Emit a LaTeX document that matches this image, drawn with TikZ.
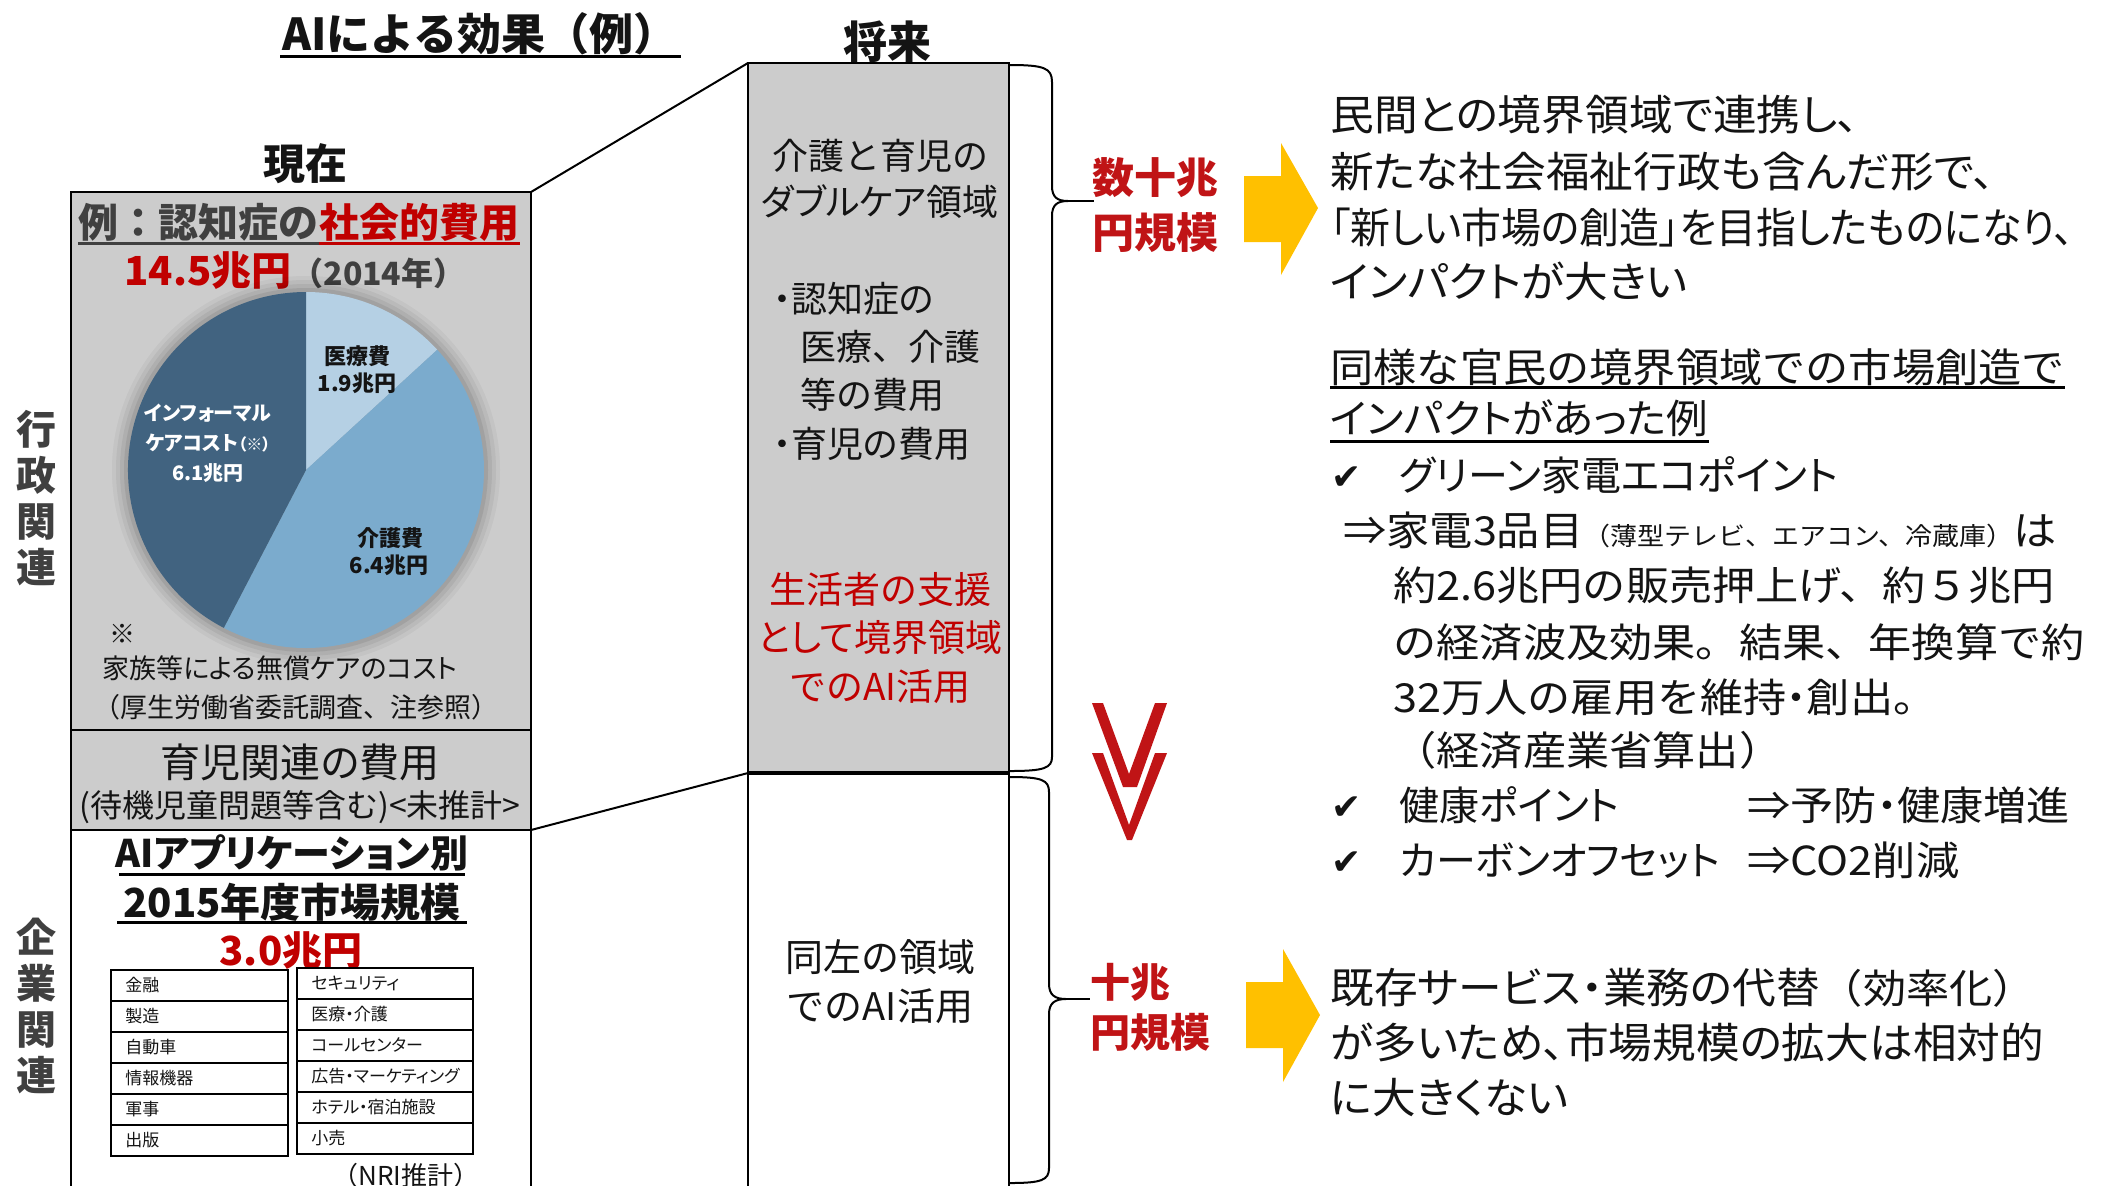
\documentclass[tikz,border=0pt]{standalone}
\usepackage{fontspec}
\setmainfont{Noto Sans CJK JP}
\newfontfamily\jpK[RawFeature=+palt]{Noto Sans CJK JP}
\newfontfamily\jpM[FakeStretch=1.08]{Noto Sans CJK JP}
\newfontfamily\jpW[RawFeature=+palt,FakeStretch=1.04]{Noto Sans CJK JP}
\newfontfamily\jpV[RawFeature=+palt,FakeStretch=0.95]{Noto Sans CJK JP}
\newfontfamily\dv{DejaVu Sans}
\newcommand\fsz[1]{\fontsize{#1}{#1}\selectfont}
\definecolor{boxgray}{RGB}{204,204,204}
\definecolor{hdrgray}{RGB}{64,64,64}
\definecolor{myred}{RGB}{192,0,0}
\definecolor{lblred}{RGB}{192,20,22}
\definecolor{ayellow}{RGB}{255,192,0}
\definecolor{pieL}{RGB}{181,208,228}
\definecolor{pieM}{RGB}{123,171,205}
\definecolor{pieD}{RGB}{65,99,128}
\definecolor{txtblk}{RGB}{20,20,20}
\begin{document}
\begin{tikzpicture}[x=0.5pt,y=-0.5pt,
  t/.style={inner sep=0pt,anchor=base west,text=txtblk},
  tc/.style={inner sep=0pt,anchor=base,text=txtblk},
  thinln/.style={line width=1pt,draw=black},
  tbl/.style={line width=1.4pt,draw=black},
  cell/.style={t,font={\jpK\fsz{8.5pt}}},
  brace/.style={line width=1pt,draw=black},
  chk/.style={t,font={\dv\fsz{18pt}}},
]
\useasboundingbox (0,0) rectangle (2107,1185);
\fill[white] (0,0) rectangle (2107,1185);

% ---------- boxes ----------
\coordinate (LA) at (71,192);
\coordinate (LTR) at (531,192);
\coordinate (LB) at (531,730);
\coordinate (LC) at (71,730);
\coordinate (LD) at (531,830);
\coordinate (LE) at (71,830);
\coordinate (LF) at (531,1195);
\coordinate (MA) at (748,63);
\coordinate (MB) at (1009,773);
\coordinate (MC) at (748,773);
\coordinate (MD) at (1009,1195);

\draw[line width=1.2pt,fill=boxgray] (LA) rectangle (LB);
\draw[line width=1.2pt,fill=boxgray] (LC) rectangle (LD);
\draw[line width=1.2pt,fill=white] (LE) rectangle (LF);
\draw[line width=1pt,fill=boxgray] (MA) rectangle (MB);
\draw[line width=1pt,fill=white] (MC) rectangle (MD);
\draw[line width=2pt] (MC) -- (MB);
\draw[thinln] (LTR) -- (MA);
\draw[thinln] (LD) -- (MC);

% ---------- titles ----------
\node[tc,font={\bfseries\fsz{22pt}}] (title) at (480,50) {AIによる効果（例）};
\coordinate (ulT1) at (280,56);
\coordinate (ulT2) at (681,56);
\draw[line width=1.5pt] (ulT1) -- (ulT2);
\node[tc,font={\bfseries\fsz{21pt}}] (now) at (305,179) {現在};
\node[tc,font={\bfseries\fsz{22pt}}] (fut) at (887,58) {将来};

% vertical labels
\node[inner sep=0pt,align=center,font={\bfseries\fontsize{20pt}{23pt}\selectfont},text=hdrgray] (vl1) at (37,498) {行\\政\\関\\連};
\node[inner sep=0pt,align=center,font={\bfseries\fontsize{20pt}{23pt}\selectfont},text=hdrgray] (vl2) at (37,1006) {企\\業\\関\\連};

% ---------- left top box ----------
\node[t,font={\bfseries\fsz{20pt}},text=hdrgray] (h1) at (78,237) {例：認知症の};
\node[t,font={\bfseries\fsz{20pt}},text=myred] (h2) at (h1.base east) {社会的費用};
\coordinate (ulH) at (0,243);
\draw[hdrgray,line width=1.5pt] (h1.west |- ulH) -- (h1.east |- ulH);
\draw[myred,line width=1.5pt] (h2.west |- ulH) -- (h2.east |- ulH);
\node[t,font={\bfseries\fsz{20pt}},text=myred] (tot) at (124,285) {14.5兆円{\fsz{16pt}\color{hdrgray}（2014年）}};

% pie
\coordinate (pc) at (306,470);
\foreach \r/\o in {194/0.04,190/0.05,186/0.06,182/0.08}
  \fill[black,opacity=\o] (pc) circle[radius=\r];
\fill[pieL] (pc) -- ++(-90:178) arc[start angle=-90,end angle=-42.5,radius=178] -- cycle;
\fill[pieM] (pc) -- ++(-42.5:178) arc[start angle=-42.5,end angle=117.5,radius=178] -- cycle;
\fill[pieD] (pc) -- ++(117.5:178) arc[start angle=117.5,end angle=270,radius=178] -- cycle;

\node[tc,font={\bfseries\fsz{11pt}}] (p1a) at (357,364) {医療費};
\node[tc,font={\bfseries\fsz{11pt}}] (p1b) at (357,391) {1.9兆円};
\node[tc,font={\jpK\bfseries\fsz{10pt}},text=white] (p3a) at (208,420) {インフォーマル};
\node[tc,font={\jpK\bfseries\fsz{10pt}},text=white] (p3b) at (208,450) {ケアコスト{\fsz{8pt}（※）}};
\node[tc,font={\bfseries\fsz{10pt}},text=white] (p3c) at (208,480) {6.1兆円};
\node[tc,font={\bfseries\fsz{11pt}}] (p2a) at (390,546) {介護費};
\node[tc,font={\bfseries\fsz{11pt}}] (p2b) at (389,573) {6.4兆円};

\node[tc,font={\fsz{13pt}}] (nt0) at (122,643) {※};
\node[tc,font={\jpK\fsz{13.5pt}}] (nt1) at (280,678) {家族等による無償ケアのコスト};
\node[tc,font={\fsz{13.5pt}}] (nt2) at (296,717) {（厚生労働省委託調査、注参照）};

% child-care box
\node[tc,font={\jpK\fsz{20pt}}] (cc1) at (300,777) {育児関連の費用};
\node[tc,font={\fsz{16pt}}] (cc2) at (300,817) {(待機児童問題等含む)<未推計>};

% ---------- left bottom box ----------
\node[tc,font={\jpK\bfseries\fsz{19pt}}] (ai1) at (292,867) {AIアプリケーション別};
\node[tc,font={\bfseries\fsz{20pt}}] (ai2) at (292,917) {2015年度市場規模};
\coordinate (ulA) at (0,874);
\coordinate (ulB) at (0,922);
\coordinate (ulAx1) at (119,0);
\coordinate (ulAx2) at (465,0);
\coordinate (ulBx1) at (117,0);
\coordinate (ulBx2) at (467,0);
\draw[line width=1.5pt] (ulAx1 |- ulA) -- (ulAx2 |- ulA);
\draw[line width=1.5pt] (ulBx1 |- ulB) -- (ulBx2 |- ulB);
\node[tc,font={\bfseries\fsz{20pt}},text=myred] (ai3) at (291,965) {3.0兆円};

\foreach \i/\tx in {0/金融,1/製造,2/自動車,3/情報機器,4/軍事,5/出版}{
  \draw[tbl] (111,{970+31*\i}) rectangle (288,{1001+31*\i});
  \node[cell] (L\i) at (125,{991.5+31*\i}) {\tx};
}
\foreach \i/\tx in {0/セキュリティ,1/医療・介護,2/コールセンター,3/広告・マーケティング,4/ホテル・宿泊施設,5/小売}{
  \draw[tbl] (297,{968+31*\i}) rectangle (473,{999+31*\i});
  \node[cell] (R\i) at (311,{989.5+31*\i}) {\tx};
}
\node[tc,font={\fsz{13pt}}] (nri) at (406,1185) {（NRI推計）};

% ---------- middle column ----------
\node[tc,font={\fsz{18pt}}] (m1) at (880,169) {介護と育児の};
\node[tc,font={\jpK\fsz{18pt}}] (m2) at (880,215) {ダブルケア領域};
\node[t,font={\jpK\fsz{18pt}}] (m3) at (773,312) {・認知症の};
\node[t,font={\fsz{18pt}}] (m4) at (800,360) {医療、介護};
\node[t,font={\fsz{18pt}}] (m5) at (800,408) {等の費用};
\node[t,font={\jpK\fsz{18pt}}] (m6) at (773,457) {・育児の費用};
\node[tc,font={\fsz{18.5pt}},text=myred] (m7) at (880,603) {生活者の支援};
\node[tc,font={\jpK\fsz{18.5pt}},text=myred] (m8) at (880,651) {として境界領域};
\node[tc,font={\fsz{18.5pt}},text=myred] (m9) at (880,700) {でのAI活用};
\node[tc,font={\fsz{19pt}}] (m10) at (880,971) {同左の領域};
\node[tc,font={\fsz{19pt}}] (m11) at (880,1020) {でのAI活用};

% ---------- braces ----------
\coordinate (B1t) at (1010,65);
\coordinate (B1k) at (1068,201);
\coordinate (B1tip) at (1094,201);
\coordinate (B1b) at (1010,771);
\draw[brace] (B1t) .. controls (1044,65) and (1052,68) .. (1052,82) -- (1052,186) .. controls (1052,197) and (1057,201) .. (B1k)
  .. controls (1057,201) and (1052,205) .. (1052,216) -- (1052,757) .. controls (1052,768) and (1044,771) .. (B1b);
\draw[brace] (B1k) -- (B1tip);
\coordinate (B2t) at (1010,777);
\coordinate (B2k) at (1066,999);
\coordinate (B2tip) at (1090,999);
\coordinate (B2b) at (1010,1183);
\draw[brace] (B2t) .. controls (1042,777) and (1049,780) .. (1049,792) -- (1049,984) .. controls (1049,995) and (1055,999) .. (B2k)
  .. controls (1055,999) and (1049,1003) .. (1049,1014) -- (1049,1168) .. controls (1049,1180) and (1042,1183) .. (B2b);
\draw[brace] (B2k) -- (B2tip);

% ---------- red labels ----------
\node[t,font={\bfseries\fsz{21pt}},text=lblred] (r1) at (1092,193.5) {数十兆};
\node[t,font={\bfseries\fsz{21pt}},text=lblred] (r2) at (1092,248.5) {円規模};
\node[t,font={\bfseries\fsz{20pt}},text=lblred] (r3) at (1090,997) {十兆};
\node[t,font={\bfseries\fsz{20pt}},text=lblred] (r4) at (1090,1047) {円規模};

% ---------- yellow arrows ----------
\fill[ayellow] (1244,176) -- (1281,176) -- (1281,143) -- (1318,208) -- (1281,275) -- (1281,242) -- (1244,242) -- cycle;
\fill[ayellow] (1246,982) -- (1283,982) -- (1283,949) -- (1320,1015) -- (1283,1082) -- (1283,1048) -- (1246,1048) -- cycle;

% ---------- red chevrons ----------
\fill[lblred] (1092,703) -- (1103,703) -- (1129,774) -- (1155,703) -- (1167,703) -- (1137,787) -- (1123,787) -- cycle;
\fill[lblred] (1092,753) -- (1103,753) -- (1129,825) -- (1155,753) -- (1167,753) -- (1132,840) -- (1127,840) -- cycle;

% ---------- right text block 1 ----------
\node[t,font={\jpW\fsz{21pt}}] (a1) at (1330,130.5) {民間との境界領域で連携し、};
\node[t,font={\jpW\fsz{21pt}}] (a2) at (1330,187.5) {新たな社会福祉行政も含んだ形で、};
\node[t,font={\jpV\fsz{21pt}}] (a3) at (1330,243.5) {「新しい市場の創造」を目指したものになり、};
\node[t,font={\jpW\fsz{21pt}}] (a4) at (1330,297.5) {インパクトが大きい};

% ---------- right text block 2 ----------
\node[t,font={\jpM\fsz{20pt}}] (b1) at (1330,382) {同様な官民の境界領域での市場創造で};
\node[t,font={\jpW\fsz{20pt}}] (b2) at (1330,433) {インパクトがあった例};
\coordinate (ulC) at (0,387);
\coordinate (ulD) at (0,441);
\draw[line width=1.5pt] (b1.west |- ulC) -- (b1.east |- ulC);
\draw[line width=1.5pt] (b2.west |- ulD) -- (b2.east |- ulD);
\node[chk] (ck1) at (1331,489) {✔};
\node[t,font={\jpK\fsz{20pt}}] (b3) at (1399,490) {グリーン家電エコポイント};
\node[t,font={\jpM\fsz{20pt}}] (b4) at (1343,545) {⇒家電3品目{\fsz{12.5pt}（薄型テレビ、エアコン、冷蔵庫）}は};
\node[t,font={\jpM\fsz{20pt}}] (b5) at (1393,600) {約2.6兆円の販売押上げ、約５兆円};
\node[t,font={\jpM\fsz{20pt}}] (b6) at (1393,657) {の経済波及効果。結果、年換算で約};
\node[t,font={\jpM\fsz{20pt}}] (b7) at (1393,712) {32万人の雇用を維持{\jpK・}創出。};
\node[t,font={\jpM\fsz{20pt}}] (b8) at (1393,765) {（経済産業省算出）};
\node[chk] (ck2) at (1331,819) {✔};
\node[t,font={\jpK\fsz{20pt}}] (b9) at (1399,820) {健康ポイント};
\node[t,font={\jpM\fsz{20pt}}] (b10) at (1747,820) {⇒予防{\jpK・}健康増進};
\node[chk] (ck3) at (1331,874) {✔};
\node[t,font={\jpK\fsz{20pt}}] (b11) at (1399,875) {カーボンオフセット};
\node[t,font={\jpM\fsz{20pt}}] (b12) at (1747,875) {⇒CO2削減};

% ---------- right text block 3 ----------
\node[t,font={\jpW\fsz{21pt}}] (c1) at (1330,1003.5) {既存サービス・業務の代替{\jpM\fsz{20pt}（効率化）}};
\node[t,font={\jpW\fsz{21pt}}] (c2) at (1330,1058.5) {が多いため、市場規模の拡大は相対的};
\node[t,font={\jpW\fsz{21pt}}] (c3) at (1330,1113.5) {に大きくない};
\end{tikzpicture}
\end{document}
